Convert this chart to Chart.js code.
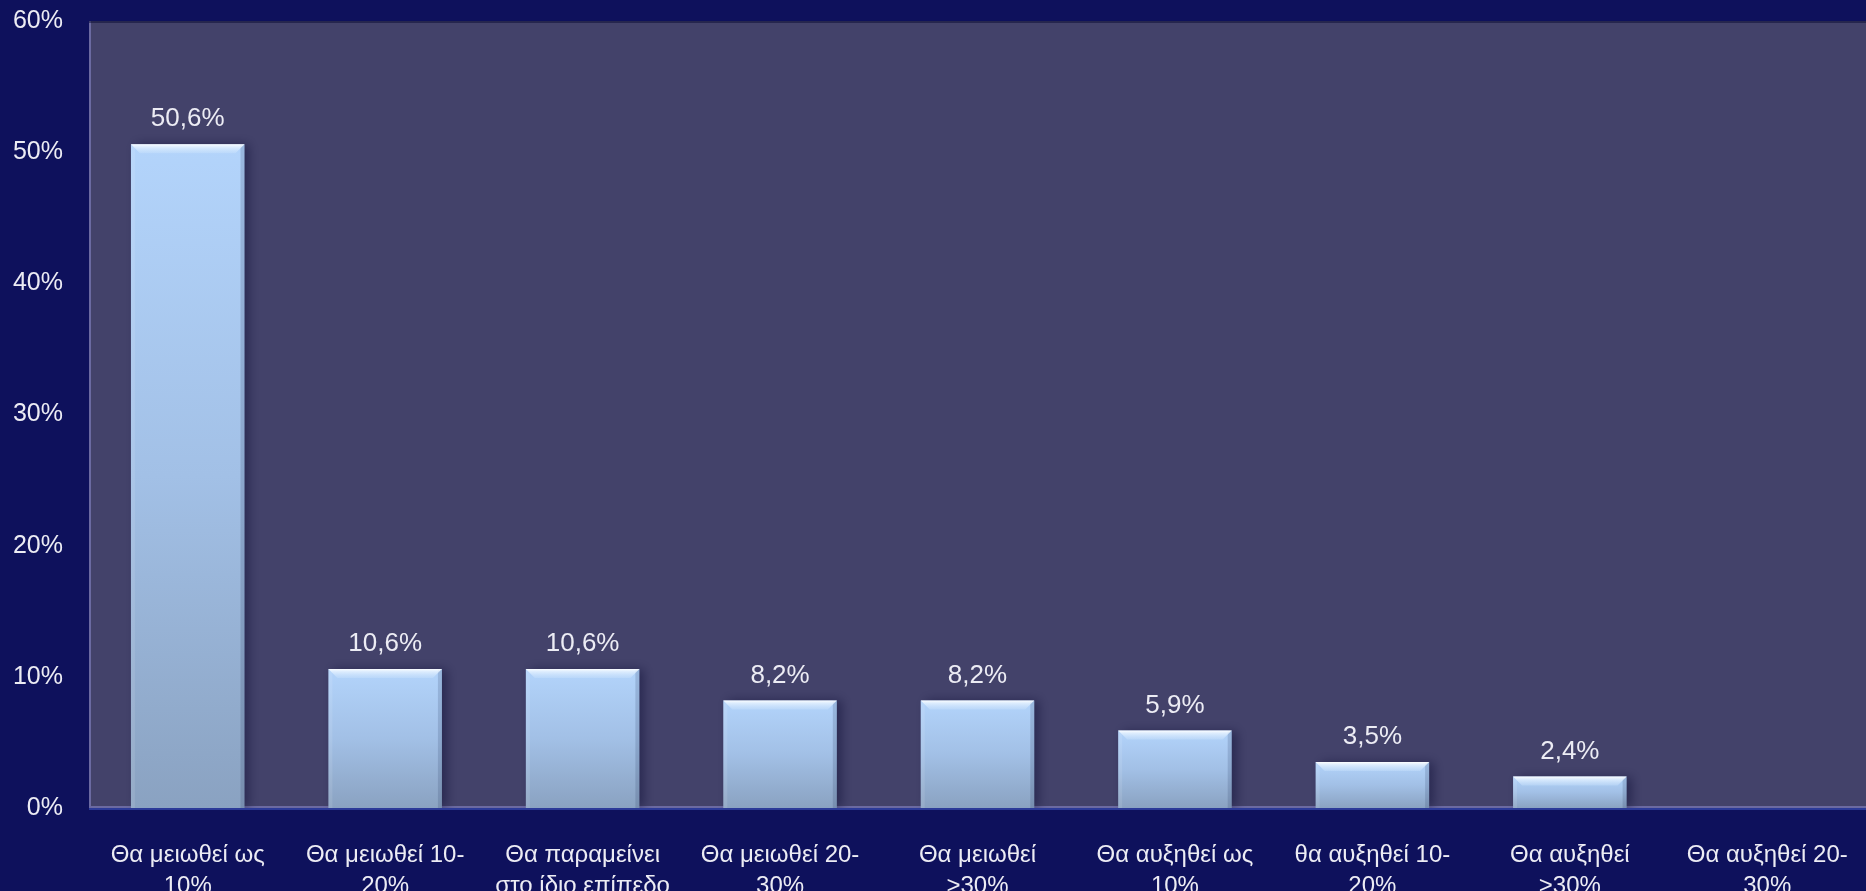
<!DOCTYPE html>
<html lang="el">
<head>
<meta charset="utf-8">
<title>Μεταβολή</title>
<script src="https://cdn.jsdelivr.net/npm/chart.js@4.4.1/dist/chart.umd.min.js"></script>
<style>
    html, body { margin: 0; padding: 0; background: #0e115c; }
    #contenedor { width: 1866px; height: 891px; position: relative; }
</style>
</head>
<body>
<div id="contenedor"><canvas id="grafico"></canvas></div>
<script>
// Categorías (dos líneas por etiqueta)
var categorias = [
    ['Θα μειωθεί ως', '10%'],
    ['Θα μειωθεί 10-', '20%'],
    ['Θα παραμείνει', 'στο ίδιο επίπεδο'],
    ['Θα μειωθεί 20-', '30%'],
    ['Θα μειωθεί', '>30%'],
    ['Θα αυξηθεί ως', '10%'],
    ['θα αυξηθεί 10-', '20%'],
    ['Θα αυξηθεί', '>30%'],
    ['Θα αυξηθεί 20-', '30%']
];
var valores = [50.6, 10.6, 10.6, 8.2, 8.2, 5.9, 3.5, 2.4, null]; // la última no tiene barra
var ejeYMin = 0;
var ejeYMax = 60;
var ejeYPaso = 10;

var fuente = '"Liberation Sans", Arial, sans-serif';
var colorTexto = '#ececf4';

// Fondo azul y área del gráfico
var fondo = {
    id: 'fondo',
    beforeDraw: function(chart) {
        var ctx = chart.ctx;
        var a = chart.chartArea;
        ctx.save();
        ctx.fillStyle = '#0e115c';
        ctx.fillRect(0, 0, chart.width, chart.height);
        ctx.fillStyle = '#43426a';
        ctx.fillRect(a.left, a.top, a.right - a.left, a.bottom - a.top);
        // borde claro izquierdo e inferior
        ctx.strokeStyle = 'rgba(120,120,180,0.75)';
        ctx.lineWidth = 2;
        ctx.beginPath();
        ctx.moveTo(a.left + 1, a.top);
        ctx.lineTo(a.left + 1, a.bottom - 1);
        ctx.lineTo(a.right, a.bottom - 1);
        ctx.stroke();
        // línea azul bajo el eje
        ctx.strokeStyle = '#2c3a98';
        ctx.beginPath();
        ctx.moveTo(a.left, a.bottom + 1);
        ctx.lineTo(a.right, a.bottom + 1);
        ctx.stroke();
        // sombra fina arriba
        ctx.strokeStyle = 'rgba(10,10,50,0.5)';
        ctx.beginPath();
        ctx.moveTo(a.left, a.top + 1);
        ctx.lineTo(a.right, a.top + 1);
        ctx.stroke();
        ctx.restore();
    },
    beforeDatasetsDraw: function(chart) {
        var ctx = chart.ctx;
        ctx.save();
        ctx.shadowColor = 'rgba(20,20,60,0.55)';
        ctx.shadowBlur = 10;
        ctx.shadowOffsetX = 5;
        ctx.shadowOffsetY = 0;
    },
    afterDatasetsDraw: function(chart) {
        chart.ctx.restore();
    }
};

// Relieve de las barras y valores encima
var relieve = {
    id: 'relieve',
    afterDatasetsDraw: function(chart) {
        var ctx = chart.ctx;
        var meta = chart.getDatasetMeta(0);
        ctx.save();
        meta.data.forEach(function(barra, i) {
            if (valores[i] === null) return;
            var izq = barra.x - barra.width / 2;
            var der = barra.x + barra.width / 2;
            var arriba = barra.y;
            var abajo = barra.base;
            var b = 9;

            // lados
            ctx.fillStyle = 'rgba(255,255,255,0.10)';
            ctx.fillRect(izq, arriba, 4, abajo - arriba);
            ctx.fillStyle = 'rgba(40,55,95,0.18)';
            ctx.fillRect(der - 4, arriba, 4, abajo - arriba);

            // bisel superior
            var g = ctx.createLinearGradient(0, arriba, 0, arriba + b);
            g.addColorStop(0, 'rgba(255,255,255,0.95)');
            g.addColorStop(0.3, 'rgba(235,245,255,0.75)');
            g.addColorStop(1, 'rgba(205,228,252,0.35)');
            ctx.fillStyle = g;
            ctx.beginPath();
            ctx.moveTo(izq, arriba);
            ctx.lineTo(der, arriba);
            ctx.lineTo(der - b, arriba + b);
            ctx.lineTo(izq + b, arriba + b);
            ctx.closePath();
            ctx.fill();
        });

        ctx.font = '26px ' + fuente;
        ctx.fillStyle = colorTexto;
        ctx.textAlign = 'center';
        ctx.textBaseline = 'middle';
        meta.data.forEach(function(barra, i) {
            var v = valores[i];
            if (v === null) return;
            ctx.fillText(v.toFixed(1).replace('.', ',') + '%', barra.x, barra.y - 25);
        });
        ctx.restore();
    }
};

// Degradado vertical por barra
function colorBarra(context) {
    var chart = context.chart;
    var v = context.raw;
    if (v === null || v === undefined || !chart.scales.y) return '#a8c6ec';
    var y0 = chart.scales.y.getPixelForValue(v);
    var y1 = chart.scales.y.getPixelForValue(0);
    if (!isFinite(y0) || !isFinite(y1) || y0 === y1) return '#a8c6ec';
    var g = chart.ctx.createLinearGradient(0, y0, 0, y1);
    g.addColorStop(0, '#b3d4fb');
    g.addColorStop(0.5, '#a2c0e6');
    g.addColorStop(1, '#8aa2c1');
    return g;
}

var ctx = document.getElementById('grafico').getContext('2d');
var grafico = new Chart(ctx, {
    type: 'bar',
    data: {
        labels: categorias,
        datasets: [{
            data: valores,
            backgroundColor: colorBarra,
            borderWidth: 0,
            categoryPercentage: 1,
            barPercentage: 0.575
        }]
    },
    options: {
        responsive: true,
        maintainAspectRatio: false,
        devicePixelRatio: 1,
        animation: false,
        layout: { padding: { top: 21, left: 0, right: 0, bottom: 0 } },
        plugins: {
            legend: { display: false },
            tooltip: { enabled: false }
        },
        scales: {
            x: {
                grid: { display: false },
                border: { display: false },
                ticks: {
                    color: colorTexto,
                    font: { family: fuente, size: 24, lineHeight: 1.3 },
                    padding: 24,
                    autoSkip: false,
                    maxRotation: 0,
                    minRotation: 0
                },
                afterFit: function(scale) {
                    scale.height = 83;
                    scale.paddingLeft = 0;
                    scale.paddingRight = 0;
                }
            },
            y: {
                min: ejeYMin,
                max: ejeYMax,
                grid: { display: false, drawTicks: false },
                border: { display: false },
                ticks: {
                    stepSize: ejeYPaso,
                    color: colorTexto,
                    font: { family: fuente, size: 25 },
                    padding: 26,
                    callback: function(v) { return v + '%'; }
                },
                afterFit: function(scale) {
                    scale.width = 89;
                    scale.paddingTop = 0;
                    scale.paddingBottom = 0;
                }
            }
        }
    },
    plugins: [fondo, relieve]
});
</script>
</body>
</html>
